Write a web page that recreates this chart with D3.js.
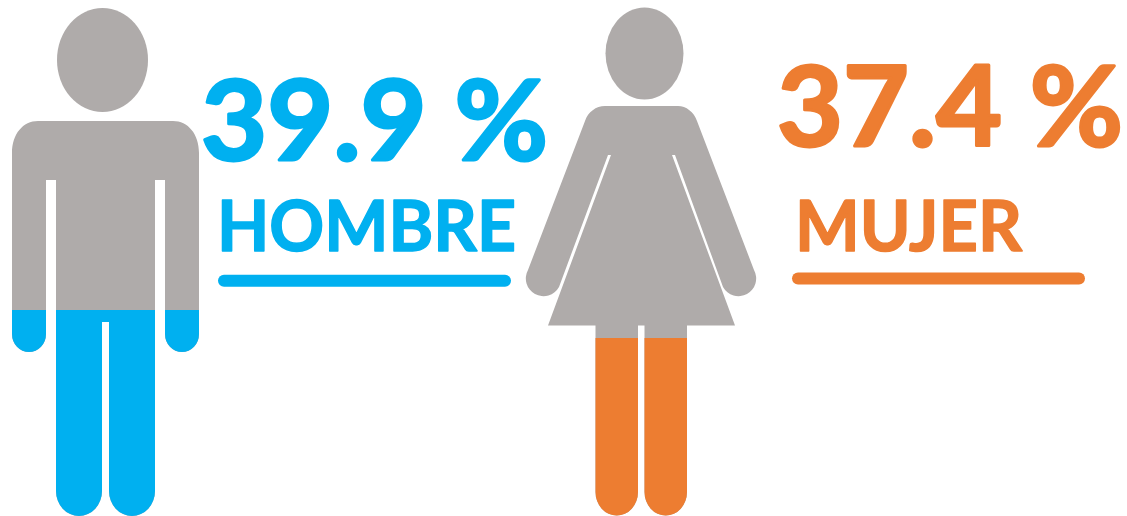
<!DOCTYPE html>
<html>
<head>
<meta charset="utf-8">
<script src="https://cdn.jsdelivr.net/npm/d3@7"></script>
<style>
  html, body { margin: 0; padding: 0; background: #fff; overflow: hidden; }
  svg { display: block; }
  text { font-family: Lato, "Open Sans", sans-serif; font-weight: 700; stroke-linejoin: round; }
</style>
</head>
<body>
<script>
// data
var categories = ["HOMBRE", "MUJER"];
var percents = [39.9, 37.4];
var colors = ["#00B0F0", "#ED7D31"];

var width = 1127, height = 516;
var grey = "#AFABAA";

var svg = d3.select("body").append("svg")
    .attr("width", width)
    .attr("height", height);

// each figure fills from its feet, the 100% mark is just where the picture puts it
var levelMan = d3.scaleLinear().domain([0, 100]).range([516, 0]);
var levelWoman = d3.scaleLinear().domain([0, 100]).range([516, 40]);

var manBody = "M38,121 H173 C188,121 199,134 199,153 V334 " +
    "A17,18 0 0 1 165,334 V180 H155 V491 A23,25 0 0 1 109,491 V322 H102 V491 " +
    "A23,25 0 0 1 56,491 V180 H46 V334 A17,18 0 0 1 12,334 V153 C12,134 23,121 38,121 Z";

var womanBody = "M605,106 H678 C686,106 694,112 697,121 L754,270 " +
    "A17,17 0 0 1 723,287 L675,155 H672 L735,325.5 H687 V492 " +
    "A21.2,23.5 0 0 1 644.5,492 V325.5 H638 V492 A21.2,23.5 0 0 1 595.5,492 V325.5 H548 " +
    "L611,155 H608 L559,287 A17,17 0 0 1 528,270 L585,121 C588,112 596,106 605,106 Z";

var figures = [
    {head: [102.5, 60, 45.5, 52], body: manBody, level: levelMan},
    {head: [644.5, 53.5, 39, 46], body: womanBody, level: levelWoman}
];

figures.forEach(function(f, i) {
    var g = svg.append("g");
    g.append("ellipse")
        .attr("cx", f.head[0]).attr("cy", f.head[1])
        .attr("rx", f.head[2]).attr("ry", f.head[3])
        .attr("fill", grey);
    g.append("path").attr("d", f.body).attr("fill", grey);

    var y = f.level(percents[i]);
    svg.append("clipPath").attr("id", "fill" + i)
        .append("rect")
        .attr("x", 0).attr("y", y)
        .attr("width", width).attr("height", height - y);
    g.append("path")
        .attr("d", f.body)
        .attr("fill", colors[i])
        .attr("clip-path", "url(#fill" + i + ")");
});

// labels, the stroke thickens Lato up to the weight of the original
var labelPos = [
    {px: 201, pw: 347, py: 160, cx: 217, cw: 299, cy: 251, x1: 224, x2: 505, ly: 280.7},
    {px: 777, pw: 346, py: 146, cx: 795, cw: 227, cy: 251, x1: 798, x2: 1079, ly: 278.6}
];

labelPos.forEach(function(p, i) {
    svg.append("text")
        .attr("x", p.px).attr("y", p.py)
        .attr("font-size", 111)
        .attr("fill", colors[i])
        .attr("stroke", colors[i])
        .attr("stroke-width", 3)
        .attr("textLength", p.pw)
        .attr("lengthAdjust", "spacingAndGlyphs")
        .text(percents[i].toFixed(1) + " %");
    svg.append("text")
        .attr("x", p.cx).attr("y", p.cy)
        .attr("font-size", 70)
        .attr("fill", colors[i])
        .attr("stroke", colors[i])
        .attr("stroke-width", 1.5)
        .attr("textLength", p.cw)
        .attr("lengthAdjust", "spacingAndGlyphs")
        .text(categories[i]);
    svg.append("line")
        .attr("x1", p.x1).attr("x2", p.x2)
        .attr("y1", p.ly).attr("y2", p.ly)
        .attr("stroke", colors[i])
        .attr("stroke-width", 12)
        .attr("stroke-linecap", "round");
});
</script>
</body>
</html>
